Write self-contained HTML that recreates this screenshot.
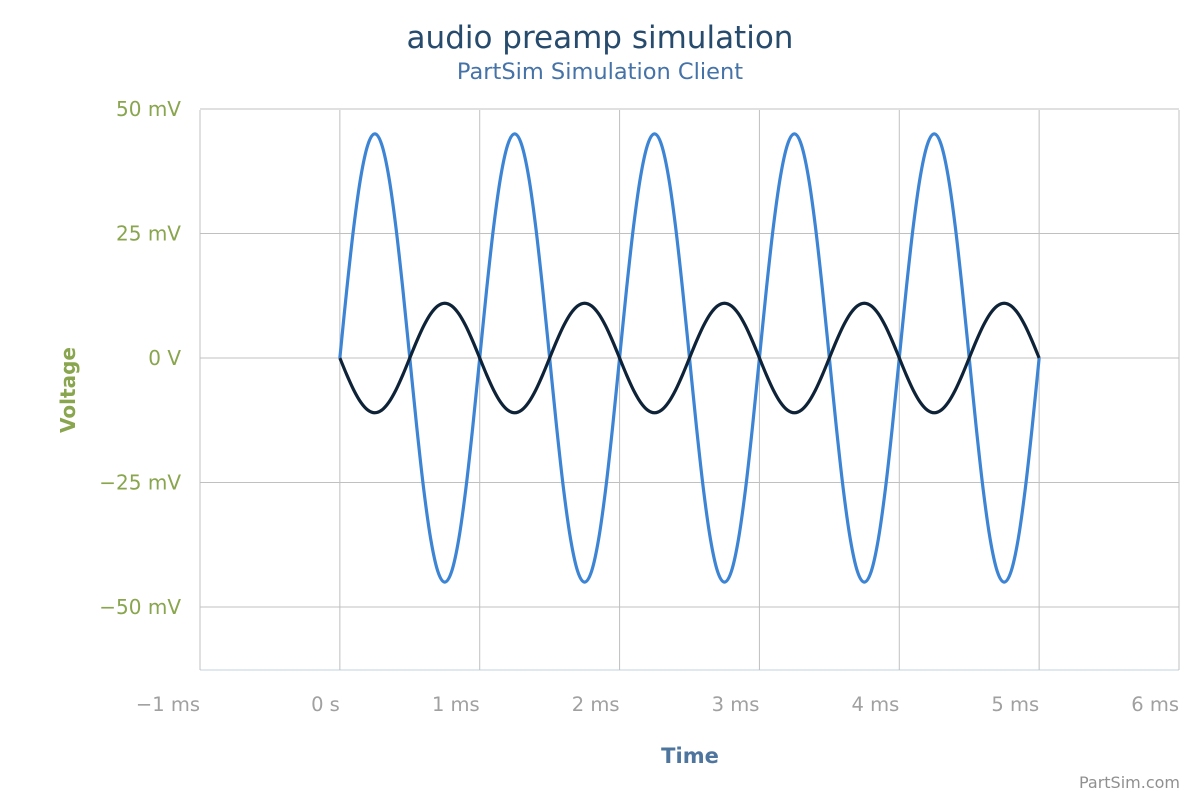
<!DOCTYPE html>
<html><head><meta charset="utf-8"><style>
body{margin:0;background:#fff;width:1200px;height:800px;overflow:hidden;font-family:"DejaVu Sans","Liberation Sans",sans-serif}
</style></head><body>
<svg id="chart" width="1200" height="800">
<text x="600" y="48" text-anchor="middle" font-size="31" fill="#274b6d">audio preamp simulation</text>
<text x="600" y="79" text-anchor="middle" font-size="22.5" fill="#4572a7">PartSim Simulation Client</text>
<g id="grid"></g><g id="series"></g><g id="labels"></g>
<text x="0" y="0" transform="translate(75,390) rotate(-90)" text-anchor="middle" font-size="20" font-weight="bold" fill="#89a54e">Voltage</text>
<text x="690" y="763" text-anchor="middle" font-size="21" font-weight="bold" fill="#4d759e">Time</text>
<text x="1180" y="788" text-anchor="end" font-size="16" fill="#909090">PartSim.com</text>
</svg>
<script>
const xTicks=[-1,0,1,2,3,4,5,6];
const xTickLabels=["−1 ms","0 s","1 ms","2 ms","3 ms","4 ms","5 ms","6 ms"];
const yTicks=[50,25,0,-25,-50];
const yTickLabels=["50 mV","25 mV","0 V","−25 mV","−50 mV"];
const timeStep=0.05;
const vin=[0,13.91,26.45,36.41,42.80,45,42.80,36.41,26.45,13.91,0,-13.91,-26.45,-36.41,-42.80,-45,-42.80,-36.41,-26.45,-13.91,
0,13.91,26.45,36.41,42.80,45,42.80,36.41,26.45,13.91,0,-13.91,-26.45,-36.41,-42.80,-45,-42.80,-36.41,-26.45,-13.91,
0,13.91,26.45,36.41,42.80,45,42.80,36.41,26.45,13.91,0,-13.91,-26.45,-36.41,-42.80,-45,-42.80,-36.41,-26.45,-13.91,
0,13.91,26.45,36.41,42.80,45,42.80,36.41,26.45,13.91,0,-13.91,-26.45,-36.41,-42.80,-45,-42.80,-36.41,-26.45,-13.91,
0,13.91,26.45,36.41,42.80,45,42.80,36.41,26.45,13.91,0,-13.91,-26.45,-36.41,-42.80,-45,-42.80,-36.41,-26.45,-13.91,0];
const vout=[0,-3.40,-6.47,-8.90,-10.46,-11,-10.46,-8.90,-6.47,-3.40,0,3.40,6.47,8.90,10.46,11,10.46,8.90,6.47,3.40,
0,-3.40,-6.47,-8.90,-10.46,-11,-10.46,-8.90,-6.47,-3.40,0,3.40,6.47,8.90,10.46,11,10.46,8.90,6.47,3.40,
0,-3.40,-6.47,-8.90,-10.46,-11,-10.46,-8.90,-6.47,-3.40,0,3.40,6.47,8.90,10.46,11,10.46,8.90,6.47,3.40,
0,-3.40,-6.47,-8.90,-10.46,-11,-10.46,-8.90,-6.47,-3.40,0,3.40,6.47,8.90,10.46,11,10.46,8.90,6.47,3.40,
0,-3.40,-6.47,-8.90,-10.46,-11,-10.46,-8.90,-6.47,-3.40,0,3.40,6.47,8.90,10.46,11,10.46,8.90,6.47,3.40,0];
const NS="http://www.w3.org/2000/svg";
const L=200,R=1179,T=110,B=670;
function xs(t){return L+(t+1)/7*(R-L);}
function ys(v){return 358-v*4.98;}
function mk(tag,attrs,parent){const e=document.createElementNS(NS,tag);for(const k in attrs)e.setAttribute(k,attrs[k]);parent.appendChild(e);return e;}
const grid=document.getElementById('grid'),labels=document.getElementById('labels'),series=document.getElementById('series');
yTicks.forEach((v,i)=>{
 const l=mk('line',{x1:L,x2:R,y1:ys(v),y2:ys(v),stroke:'#c0c0c0','stroke-width':1},grid);
 
 
 const t=mk('text',{x:181,y:ys(v)+7,'text-anchor':'end','font-size':20,fill:'#89a54e'},labels);
 t.textContent=yTickLabels[i];
 
 
});
const bl=mk('line',{x1:L,x2:R,y1:B,y2:B,stroke:'#c0d0e0','stroke-width':1},grid);


xTicks.forEach((v,i)=>{
 const l=mk('line',{x1:xs(v),x2:xs(v),y1:T,y2:B,stroke:'#c0c0c0','stroke-width':1},grid);
 
 
 const t=mk('text',{x:xs(v),y:711,'text-anchor':'end','font-size':19.5,fill:'#a0a0a0'},labels);
 t.textContent=xTickLabels[i];
 
 
});
function path(vals){
 const p=vals.map((v,i)=>[xs(i*timeStep),ys(v)]);
 let d='M'+p[0][0]+','+p[0][1];
 for(let i=0;i<p.length-1;i++){
  const p0=p[Math.max(0,i-1)],p1=p[i],p2=p[i+1],p3=p[Math.min(p.length-1,i+2)];
  const c1=[p1[0]+(p2[0]-p0[0])/6,p1[1]+(p2[1]-p0[1])/6];
  const c2=[p2[0]-(p3[0]-p1[0])/6,p2[1]-(p3[1]-p1[1])/6];
  d+=' C'+c1.join(',')+' '+c2.join(',')+' '+p2.join(',');
 }
 return d;
}
const s1=mk('path',{d:path(vin),fill:'none',stroke:'#3d85d4','stroke-width':3.2,'stroke-linejoin':'round'},series);


const s2=mk('path',{d:path(vout),fill:'none',stroke:'#0f2338','stroke-width':3.2,'stroke-linejoin':'round'},series);


</script>
</body></html>
